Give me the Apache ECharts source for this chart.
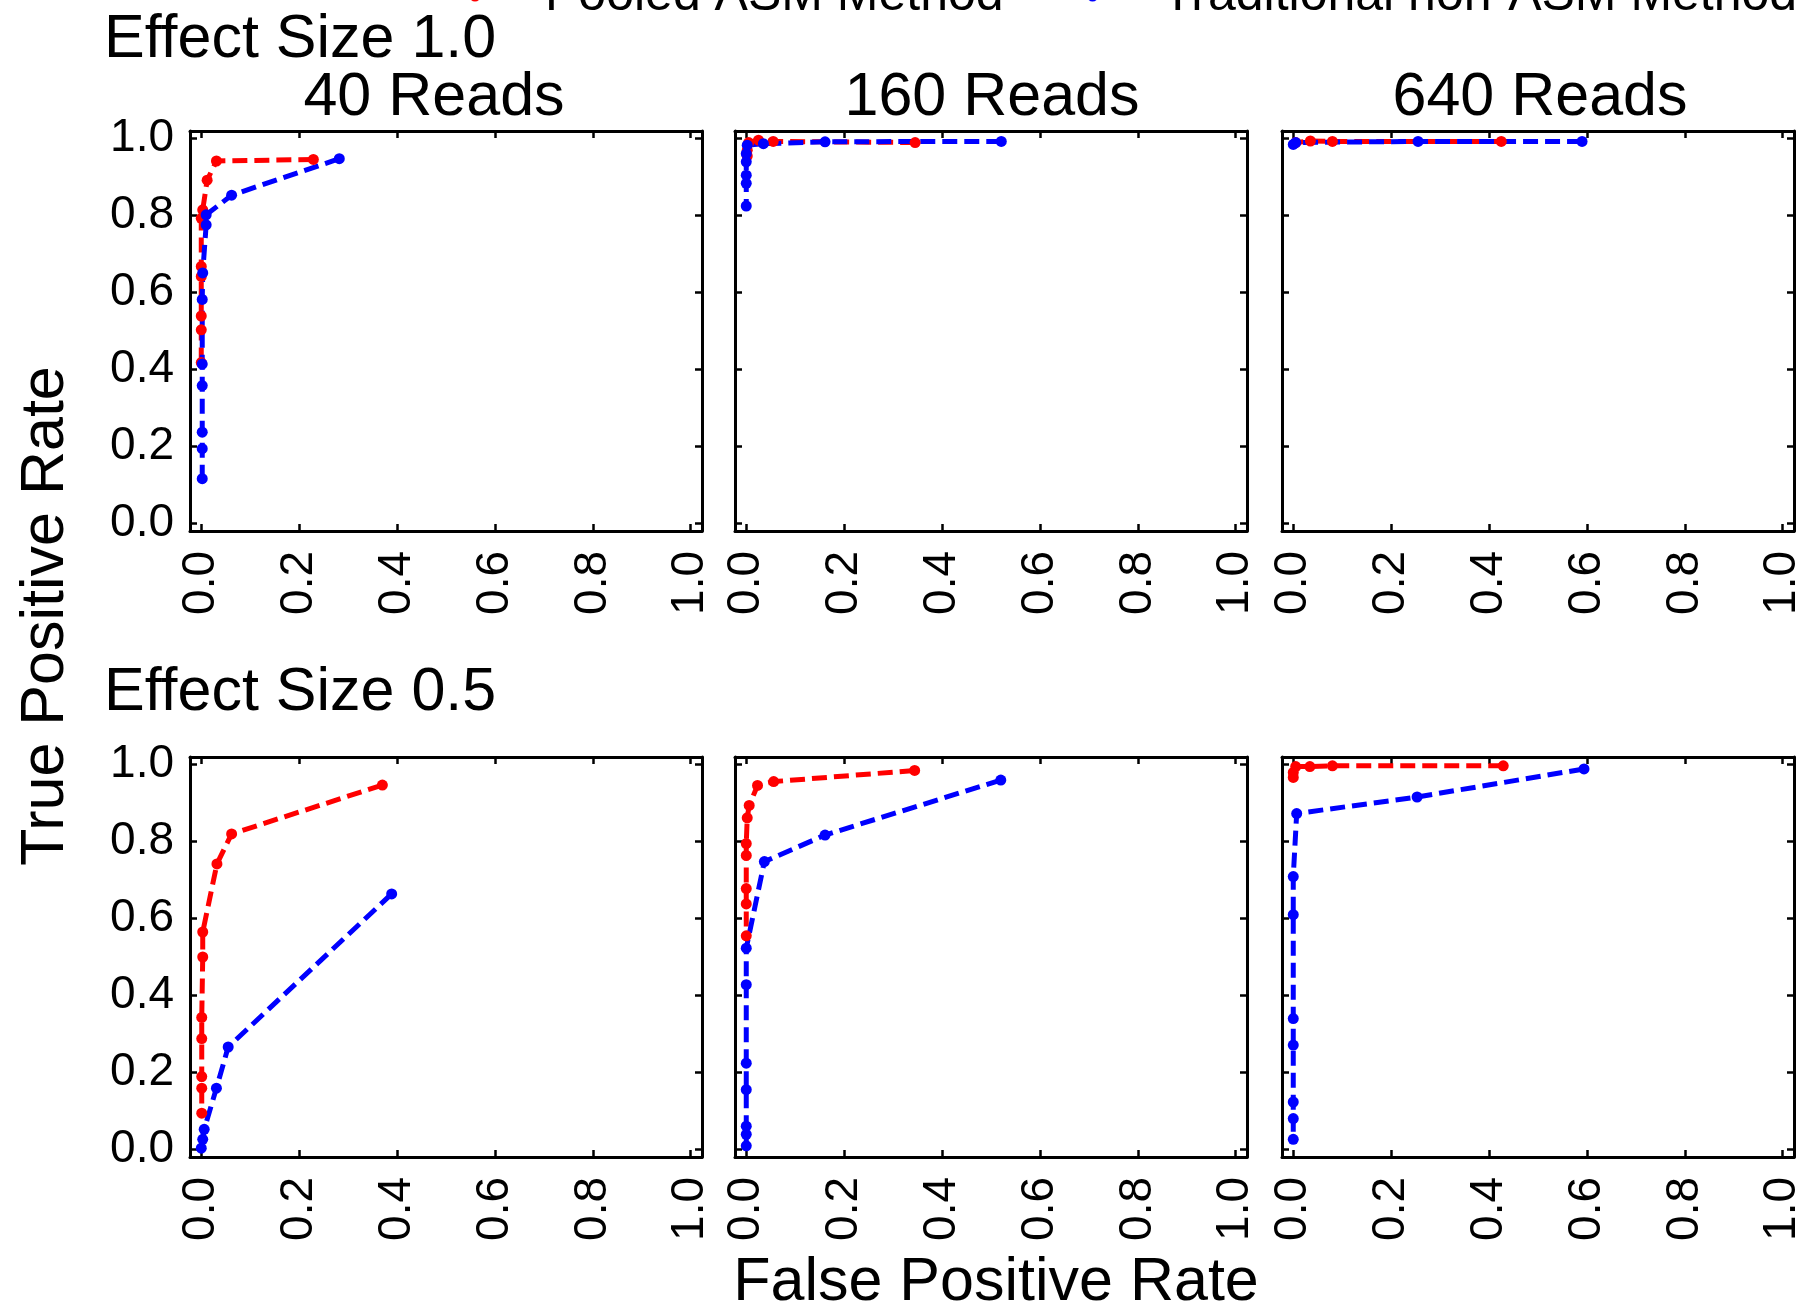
<!DOCTYPE html>
<html>
<head>
<meta charset="utf-8">
<script src="https://cdn.jsdelivr.net/npm/echarts@6.0.0/dist/echarts.min.js"></script>
<style>
html, body { margin: 0; padding: 0; background: #fff; }
#chart { width: 1806px; height: 1311px; }
</style>
</head>
<body>
<div id="chart"></div>
<script>
/* ROC curves, pooled ASM vs traditional */

var ticks = [0, 0.2, 0.4, 0.6, 0.8, 1.0];
var readLabels = ['40 Reads', '160 Reads', '640 Reads'];
var effectLabels = ['Effect Size 1.0', 'Effect Size 0.5'];
var seriesNames = ['Pooled ASM Method', 'Traditional non-ASM Method'];

// effect size 1.0  [FPR, TPR]
var pooled10_40 = [[0.229, 0.946], [0.031, 0.942], [0.012, 0.892], [0.003, 0.815], [0.0, 0.793],
    [0.0, 0.668], [0.0, 0.642], [0.0, 0.539], [0.0, 0.503], [0.0, 0.418]];
var trad10_40 = [[0.282, 0.948], [0.062, 0.853], [0.010, 0.802], [0.010, 0.776], [0.003, 0.651],
    [0.002, 0.582], [0.002, 0.414], [0.002, 0.358], [0.002, 0.237], [0.002, 0.194], [0.002, 0.116]];
var pooled10_160 = [[0.345, 0.990], [0.055, 0.993], [0.025, 0.996], [0.005, 0.990], [0.002, 0.970], [0.002, 0.955]];
var trad10_160 = [[0.521, 0.993], [0.161, 0.992], [0.035, 0.987], [0.002, 0.983], [0.0, 0.961],
    [0.0, 0.940], [0.0, 0.905], [0.0, 0.884], [0.0, 0.825]];
var pooled10_640 = [[0.425, 0.993], [0.080, 0.993], [0.035, 0.994], [0.005, 0.990]];
var trad10_640 = [[0.590, 0.993], [0.255, 0.993], [0.005, 0.990], [0.0, 0.985]];

// effect size 0.5
var pooled05_40 = [[0.370, 0.947], [0.062, 0.820], [0.032, 0.742], [0.003, 0.565], [0.003, 0.500],
    [0.001, 0.343], [0.001, 0.288], [0.001, 0.189], [0.001, 0.159], [0.001, 0.094]];
var trad05_40 = [[0.389, 0.664], [0.055, 0.266], [0.031, 0.159], [0.006, 0.052], [0.003, 0.026], [0.0, 0.003]];
var pooled05_160 = [[0.344, 0.985], [0.056, 0.956], [0.023, 0.946], [0.006, 0.894], [0.002, 0.862],
    [0.0, 0.795], [0.0, 0.764], [0.0, 0.678], [0.0, 0.638], [0.0, 0.555]];
var trad05_160 = [[0.520, 0.960], [0.161, 0.817], [0.037, 0.748], [0.0, 0.523], [0.0, 0.428],
    [0.0, 0.224], [0.0, 0.155], [0.0, 0.060], [0.0, 0.039], [0.0, 0.009]];
var pooled05_640 = [[0.429, 0.997], [0.080, 0.997], [0.034, 0.995], [0.005, 0.995], [0.0, 0.980], [0.0, 0.967]];
var trad05_640 = [[0.594, 0.989], [0.253, 0.916], [0.007, 0.873], [0.0, 0.709], [0.0, 0.610],
    [0.0, 0.340], [0.0, 0.271], [0.0, 0.123], [0.0, 0.080], [0.0, 0.026]];

var pooledSets = [[pooled10_40, pooled10_160, pooled10_640], [pooled05_40, pooled05_160, pooled05_640]];
var tradSets = [[trad10_40, trad10_160, trad10_640], [trad05_40, trad05_160, trad05_640]];

var FONT = "'Liberation Sans', Arial, Helvetica, sans-serif";
var colLeft = [190, 735, 1282];
var rowTop = [131, 757];
var boxW = 512, boxH = 400;
var titleX = [434, 992, 1540];

var chart = echarts.init(document.getElementById('chart'));

var grids = [], xAxes = [], yAxes = [], series = [];

function fmt(v) { return (+v).toFixed(1); }

function axisBase(gridIndex, position, showLabel, isX) {
    var a = {
        type: 'value',
        gridIndex: gridIndex,
        position: position,
        min: isX ? -0.023 : -0.02,
        max: isX ? 1.023 : 1.02,
        axisLine: { show: true, onZero: false, lineStyle: { color: '#000', width: 3 } },
        axisTick: { show: true, inside: true, length: 7, customValues: ticks,
            lineStyle: { color: '#000', width: 2.5 } },
        axisLabel: { show: showLabel, customValues: ticks, margin: isX ? 20 : 16, fontSize: 46,
            fontFamily: FONT, color: '#000', formatter: fmt },
        splitLine: { show: false }
    };
    if (isX) a.axisLabel.rotate = 90;
    return a;
}

for (var r = 0; r < 2; r++) {
    for (var c = 0; c < 3; c++) {
        var g = grids.length;
        grids.push({ left: colLeft[c], top: rowTop[r], width: boxW, height: boxH,
            containLabel: false, outerBoundsMode: 'none' });
        xAxes.push(axisBase(g, 'bottom', true, true));
        xAxes.push(axisBase(g, 'top', false, true));
        yAxes.push(axisBase(g, 'left', c === 0, false));
        yAxes.push(axisBase(g, 'right', false, false));

        series.push({
            name: seriesNames[0], type: 'line', xAxisIndex: 2 * g, yAxisIndex: 2 * g,
            data: pooledSets[r][c], symbol: 'circle', symbolSize: 11, clip: false,
            lineStyle: { color: '#ff0000', width: 5, type: [15, 7] },
            itemStyle: { color: '#ff0000' }, emphasis: { disabled: true }
        });
        series.push({
            name: seriesNames[1], type: 'line', xAxisIndex: 2 * g, yAxisIndex: 2 * g,
            data: tradSets[r][c], symbol: 'circle', symbolSize: 11, clip: false,
            lineStyle: { color: '#0000ff', width: 5, type: [15, 7] },
            itemStyle: { color: '#0000ff' }, emphasis: { disabled: true }
        });
    }
}

function txt(str, x, y, size, align, rot) {
    return {
        type: 'text', x: x, y: y, rotation: rot || 0, silent: true,
        style: { text: str, fontSize: size, fontFamily: FONT, fill: '#000',
            align: align, verticalAlign: 'middle', textAlign: align, textVerticalAlign: 'middle' }
    };
}

var graphics = [
    txt(effectLabels[0], 104, 40, 61, 'left'),
    txt(effectLabels[1], 104, 693, 61, 'left'),
    txt('True Positive Rate', 46, 616, 61, 'center', Math.PI / 2),
    txt('False Positive Rate', 996, 1283, 61, 'center')
];
for (var k = 0; k < 3; k++) {
    graphics.push(txt(readLabels[k], titleX[k], 98, 61, 'center'));
}

var option = {
    animation: false,
    backgroundColor: '#fff',
    legend: {
        data: seriesNames, orient: 'horizontal', top: -34, left: 439, width: 1700,
        itemWidth: 60, itemHeight: 14, itemGap: 58,
        textStyle: { fontSize: 50, fontFamily: FONT, color: '#000', padding: [0, 0, 0, 35] }
    },
    grid: grids,
    xAxis: xAxes,
    yAxis: yAxes,
    series: series,
    graphic: graphics
};
chart.setOption(option);
</script>
</body>
</html>
